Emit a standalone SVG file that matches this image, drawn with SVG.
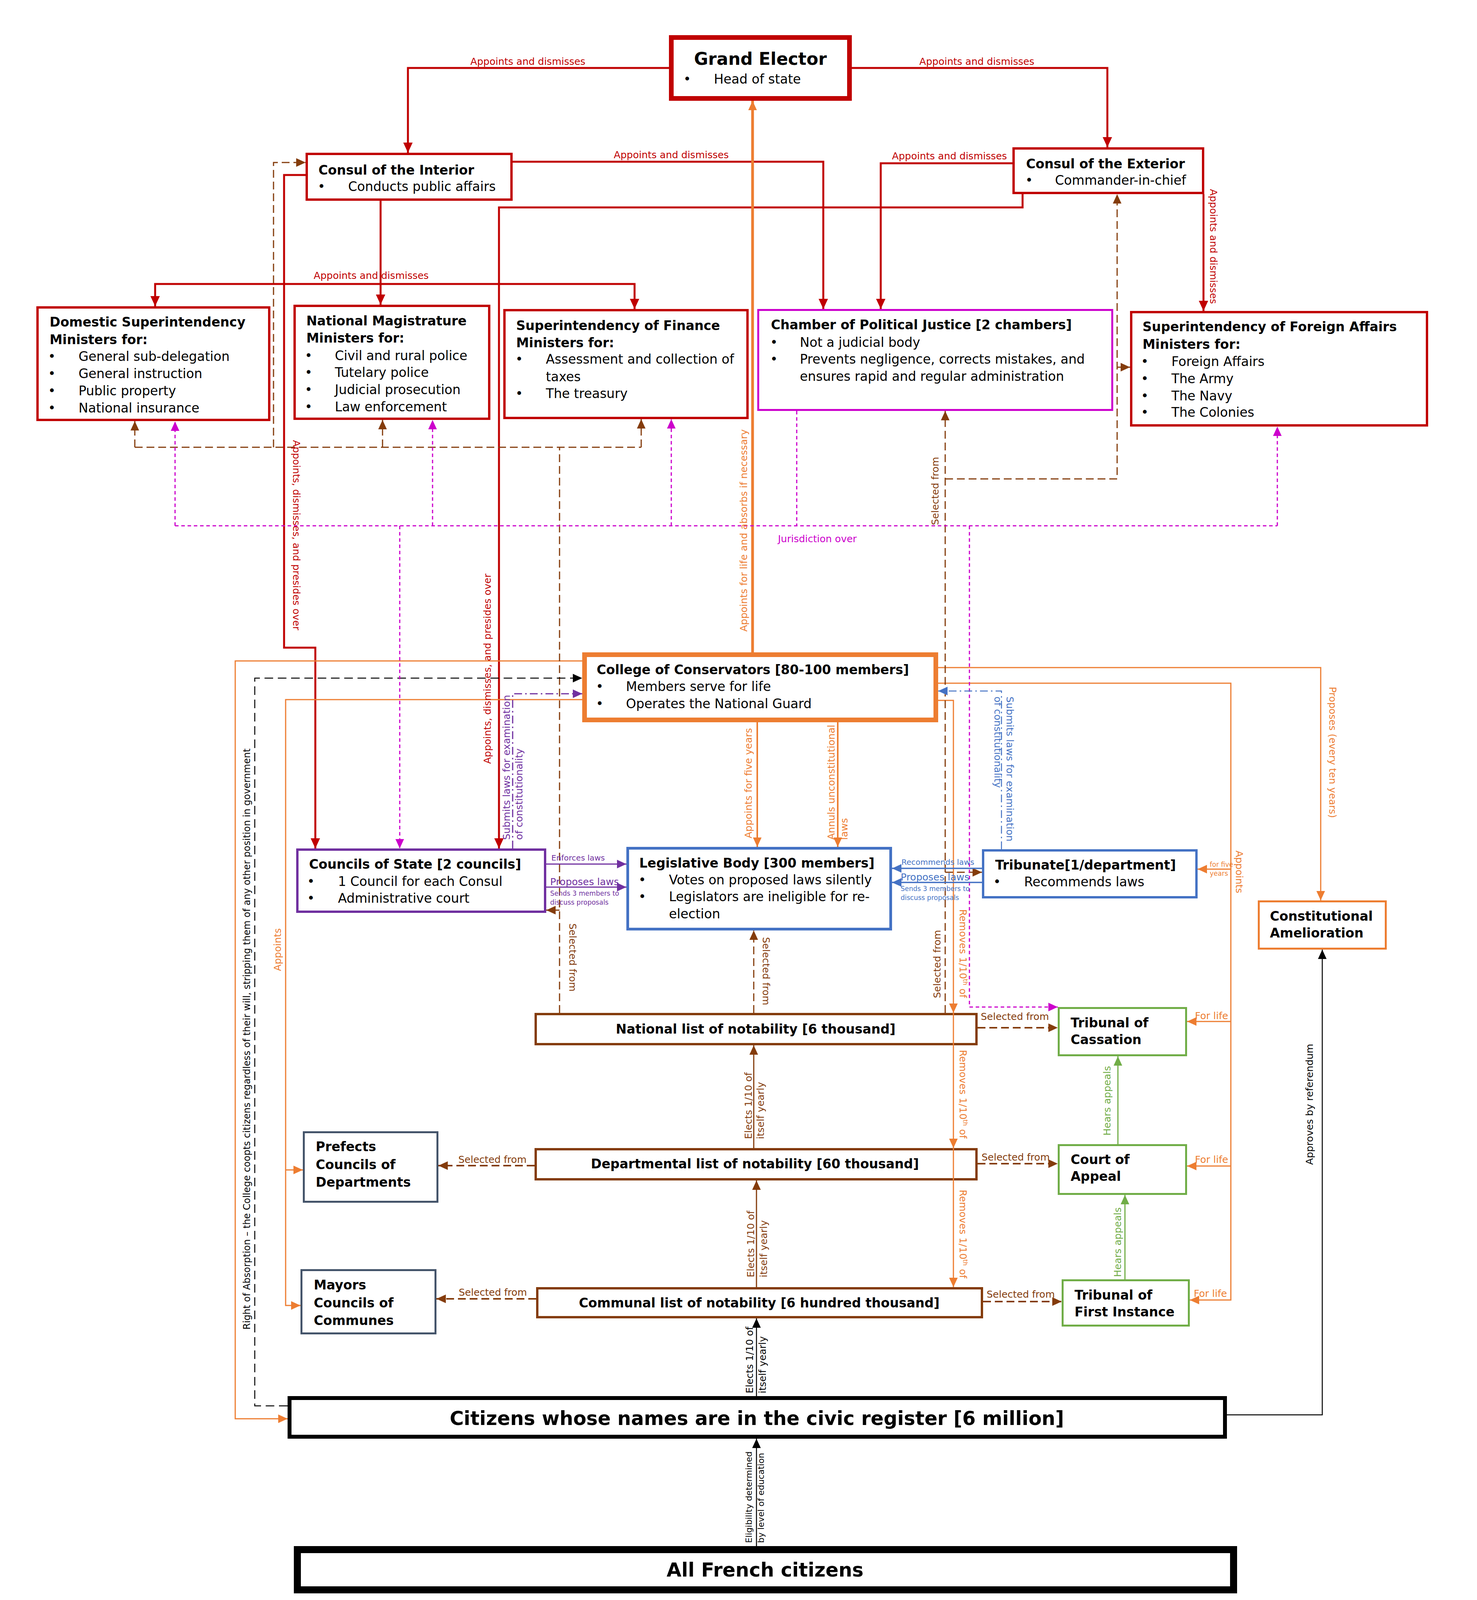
<svg xmlns="http://www.w3.org/2000/svg" width="3780" height="4252" viewBox="0 0 3780 4252">
<defs>
<style>
text{font-family:"DejaVu Sans","Liberation Sans",sans-serif}
.t{font-size:33px;fill:#000}
.b{font-weight:bold}
.l{font-size:25px}
.s{font-size:17px}
.m{font-size:20px}
.box{fill:#fff}
.c{fill:none}
.red{stroke:#C00000;stroke-width:5;marker-end:url(#aR)}
.or{stroke:#ED7D31;stroke-width:3;marker-end:url(#aO)}
.br{stroke:#843C0C;stroke-width:3;stroke-dasharray:20 10;marker-end:url(#aB)}
.brs{stroke:#843C0C;stroke-width:3;marker-end:url(#aB)}
.mg{stroke:#CC00CC;stroke-width:3;stroke-dasharray:9 7;marker-end:url(#aM)}
.pu{stroke:#7030A0;stroke-width:3;marker-end:url(#aP)}
.bl{stroke:#4472C4;stroke-width:3.5;marker-end:url(#aL)}
.gr{stroke:#70AD47;stroke-width:3;marker-end:url(#aG)}
.bk{stroke:#000;stroke-width:2.5;marker-end:url(#aK)}
.fr{fill:#C00000}.fo{fill:#ED7D31}.fb{fill:#843C0C}.fm{fill:#CC00CC}.fp{fill:#7030A0}.fl{fill:#4472C4}.fg{fill:#70AD47}.fk{fill:#000}
</style>
<marker id="aR" viewBox="0 0 20 20" refX="20" refY="10" markerWidth="26" markerHeight="24" markerUnits="userSpaceOnUse" orient="auto" preserveAspectRatio="none"><path d="M0,0L20,10L0,20z" fill="#C00000"/></marker>
<marker id="aO" viewBox="0 0 20 20" refX="20" refY="10" markerWidth="24" markerHeight="22" markerUnits="userSpaceOnUse" orient="auto" preserveAspectRatio="none"><path d="M0,0L20,10L0,20z" fill="#ED7D31"/></marker>
<marker id="aB" viewBox="0 0 20 20" refX="20" refY="10" markerWidth="24" markerHeight="22" markerUnits="userSpaceOnUse" orient="auto" preserveAspectRatio="none"><path d="M0,0L20,10L0,20z" fill="#843C0C"/></marker>
<marker id="aM" viewBox="0 0 20 20" refX="20" refY="10" markerWidth="24" markerHeight="22" markerUnits="userSpaceOnUse" orient="auto" preserveAspectRatio="none"><path d="M0,0L20,10L0,20z" fill="#CC00CC"/></marker>
<marker id="aP" viewBox="0 0 20 20" refX="20" refY="10" markerWidth="24" markerHeight="22" markerUnits="userSpaceOnUse" orient="auto" preserveAspectRatio="none"><path d="M0,0L20,10L0,20z" fill="#7030A0"/></marker>
<marker id="aL" viewBox="0 0 20 20" refX="20" refY="10" markerWidth="24" markerHeight="22" markerUnits="userSpaceOnUse" orient="auto" preserveAspectRatio="none"><path d="M0,0L20,10L0,20z" fill="#4472C4"/></marker>
<marker id="aG" viewBox="0 0 20 20" refX="20" refY="10" markerWidth="24" markerHeight="22" markerUnits="userSpaceOnUse" orient="auto" preserveAspectRatio="none"><path d="M0,0L20,10L0,20z" fill="#70AD47"/></marker>
<marker id="aK" viewBox="0 0 20 20" refX="20" refY="10" markerWidth="24" markerHeight="22" markerUnits="userSpaceOnUse" orient="auto" preserveAspectRatio="none"><path d="M0,0L20,10L0,20z" fill="#000"/></marker>
</defs>
<rect width="3780" height="4252" fill="#fff"/>

<g id="nodes">
<g id="grand-elector">
<rect class="box" x="1718" y="96" width="456" height="156" stroke="#C00000" stroke-width="12"/>
<text class="t b" x="1946" y="166" text-anchor="middle" style="font-size:44px">Grand Elector</text>
<text class="t" x="1749" y="214">•</text><text class="t" x="1827" y="214">Head of state</text>
</g>
<g id="consul-interior">
<rect class="box" x="785" y="394" width="524" height="117" stroke="#C00000" stroke-width="6"/>
<text class="t b" x="815" y="447">Consul of the Interior</text>
<text class="t" x="813" y="489">•</text><text class="t" x="891" y="489">Conducts public affairs</text>
</g>
<g id="consul-exterior">
<rect class="box" x="2594" y="380" width="485" height="114" stroke="#C00000" stroke-width="6"/>
<text class="t b" x="2626" y="431">Consul of the Exterior</text>
<text class="t" x="2624" y="473">•</text><text class="t" x="2700" y="473">Commander-in-chief</text>
</g>
<g id="domestic">
<rect class="box" x="96" y="787" width="593" height="288" stroke="#C00000" stroke-width="6"/>
<text class="t b" x="127" y="836">Domestic Superintendency</text>
<text class="t b" x="127" y="881">Ministers for:</text>
<text class="t" x="123" y="924">•</text><text class="t" x="201" y="924">General sub-delegation</text>
<text class="t" x="123" y="968">•</text><text class="t" x="201" y="968">General instruction</text>
<text class="t" x="123" y="1012">•</text><text class="t" x="201" y="1012">Public property</text>
<text class="t" x="123" y="1056">•</text><text class="t" x="201" y="1056">National insurance</text>
</g>
<g id="magistrature">
<rect class="box" x="754" y="783" width="498" height="289" stroke="#C00000" stroke-width="6"/>
<text class="t b" x="784" y="833">National Magistrature</text>
<text class="t b" x="784" y="877">Ministers for:</text>
<text class="t" x="780" y="922">•</text><text class="t" x="857" y="922">Civil and rural police</text>
<text class="t" x="780" y="965">•</text><text class="t" x="857" y="965">Tutelary police</text>
<text class="t" x="780" y="1009">•</text><text class="t" x="857" y="1009">Judicial prosecution</text>
<text class="t" x="780" y="1053">•</text><text class="t" x="857" y="1053">Law enforcement</text>
</g>
<g id="finance">
<rect class="box" x="1291" y="794" width="622" height="276" stroke="#C00000" stroke-width="6"/>
<text class="t b" x="1321" y="845">Superintendency of Finance</text>
<text class="t b" x="1321" y="889">Ministers for:</text>
<text class="t" x="1319" y="931">•</text><text class="t" x="1397" y="931">Assessment and collection of</text>
<text class="t" x="1397" y="976">taxes</text>
<text class="t" x="1319" y="1019">•</text><text class="t" x="1397" y="1019">The treasury</text>
</g>
<g id="chamber">
<rect class="box" x="1940.5" y="793.5" width="906" height="256" stroke="#CC00CC" stroke-width="5"/>
<text class="t b" x="1973" y="843">Chamber of Political Justice [2 chambers]</text>
<text class="t" x="1971" y="888">•</text><text class="t" x="2047" y="888">Not a judicial body</text>
<text class="t" x="1971" y="931">•</text><text class="t" x="2047" y="931">Prevents negligence, corrects mistakes, and</text>
<text class="t" x="2047" y="975">ensures rapid and regular administration</text>
</g>
<g id="foreign">
<rect class="box" x="2895" y="799" width="757" height="290" stroke="#C00000" stroke-width="6"/>
<text class="t b" x="2924" y="848">Superintendency of Foreign Affairs</text>
<text class="t b" x="2924" y="893">Ministers for:</text>
<text class="t" x="2920" y="937">•</text><text class="t" x="2998" y="937">Foreign Affairs</text>
<text class="t" x="2920" y="981">•</text><text class="t" x="2998" y="981">The Army</text>
<text class="t" x="2920" y="1025">•</text><text class="t" x="2998" y="1025">The Navy</text>
<text class="t" x="2920" y="1067">•</text><text class="t" x="2998" y="1067">The Colonies</text>
</g>
<g id="college">
<rect class="box" x="1496" y="1676" width="899" height="167" stroke="#ED7D31" stroke-width="12"/>
<text class="t b" x="1527" y="1726">College of Conservators [80-100 members]</text>
<text class="t" x="1525" y="1769">•</text><text class="t" x="1602" y="1769">Members serve for life</text>
<text class="t" x="1525" y="1813">•</text><text class="t" x="1602" y="1813">Operates the National Guard</text>
</g>
<g id="councils">
<rect class="box" x="761" y="2175" width="634" height="159" stroke="#7030A0" stroke-width="6"/>
<text class="t b" x="791" y="2224">Councils of State [2 councils]</text>
<text class="t" x="786" y="2268">•</text><text class="t" x="865" y="2268">1 Council for each Consul</text>
<text class="t" x="786" y="2311">•</text><text class="t" x="865" y="2311">Administrative court</text>
</g>
<g id="legislative">
<rect class="box" x="1606.5" y="2171.5" width="673" height="207" stroke="#4472C4" stroke-width="7"/>
<text class="t b" x="1636" y="2221">Legislative Body [300 members]</text>
<text class="t" x="1634" y="2264">•</text><text class="t" x="1712" y="2264">Votes on proposed laws silently</text>
<text class="t" x="1634" y="2307">•</text><text class="t" x="1712" y="2307">Legislators are ineligible for re-</text>
<text class="t" x="1712" y="2351">election</text>
</g>
<g id="tribunate">
<rect class="box" x="2516" y="2177" width="546" height="120" stroke="#4472C4" stroke-width="6"/>
<text class="t b" x="2547" y="2226">Tribunate[1/department]</text>
<text class="t" x="2542" y="2269">•</text><text class="t" x="2621" y="2269">Recommends laws</text>
</g>
<g id="amelioration">
<rect class="box" x="3221.5" y="2307.5" width="325" height="121" stroke="#ED7D31" stroke-width="5"/>
<text class="t b" x="3250" y="2357">Constitutional</text>
<text class="t b" x="3250" y="2400">Amelioration</text>
</g>
<g id="national-list">
<rect class="box" x="1371" y="2596" width="1128" height="77" stroke="#843C0C" stroke-width="6"/>
<text class="t b" x="1934" y="2646" text-anchor="middle">National list of notability [6 thousand]</text>
</g>
<g id="departmental-list">
<rect class="box" x="1371" y="2942" width="1128" height="77" stroke="#843C0C" stroke-width="6"/>
<text class="t b" x="1932" y="2991" text-anchor="middle">Departmental list of notability [60 thousand]</text>
</g>
<g id="communal-list">
<rect class="box" x="1375" y="3298" width="1138" height="74" stroke="#843C0C" stroke-width="6"/>
<text class="t b" x="1943" y="3347" text-anchor="middle">Communal list of notability [6 hundred thousand]</text>
</g>
<g id="cassation">
<rect class="box" x="2709.5" y="2580.5" width="326" height="121" stroke="#70AD47" stroke-width="5"/>
<text class="t b" x="2740" y="2630">Tribunal of</text>
<text class="t b" x="2740" y="2673">Cassation</text>
</g>
<g id="appeal">
<rect class="box" x="2709.5" y="2931.5" width="326" height="125" stroke="#70AD47" stroke-width="5"/>
<text class="t b" x="2740" y="2980">Court of</text>
<text class="t b" x="2740" y="3023">Appeal</text>
</g>
<g id="first-instance">
<rect class="box" x="2719.5" y="3277.5" width="323" height="116" stroke="#70AD47" stroke-width="5"/>
<text class="t b" x="2750" y="3327">Tribunal of</text>
<text class="t b" x="2750" y="3370">First Instance</text>
</g>
<g id="prefects">
<rect class="box" x="777.5" y="2898.5" width="342" height="178" stroke="#44546A" stroke-width="5"/>
<text class="t b" x="808" y="2947">Prefects</text>
<text class="t b" x="808" y="2993">Councils of</text>
<text class="t b" x="808" y="3038">Departments</text>
</g>
<g id="mayors">
<rect class="box" x="771.5" y="3251.5" width="343" height="162" stroke="#44546A" stroke-width="5"/>
<text class="t b" x="803" y="3301">Mayors</text>
<text class="t b" x="803" y="3347">Councils of</text>
<text class="t b" x="803" y="3392">Communes</text>
</g>
<g id="citizens">
<rect class="box" x="741" y="3579" width="2394" height="99" stroke="#000" stroke-width="10"/>
<text class="t b" x="1937" y="3648" text-anchor="middle" style="font-size:49px">Citizens whose names are in the civic register [6 million]</text>
</g>
<g id="all-citizens">
<rect class="box" x="761" y="3967" width="2396" height="103" stroke="#000" stroke-width="18"/>
<text class="t b" x="1958" y="4036" text-anchor="middle" style="font-size:49px">All French citizens</text>
</g>
</g>

<g id="connectors" class="c">
<path class="red" d="M1712,174H1044V391"/>
<path class="red" d="M2180,174H2834V377"/>
<path class="red" d="M1312,414H2107V791"/>
<path class="red" d="M2591,418H2254V791"/>
<path class="red" d="M974,514V780"/>
<path class="red" d="M974,727H397V784"/>
<path class="red" d="M974,727H1624V791"/>
<path class="red" d="M3080,497V796"/>
<path class="red" d="M782,448H727V1658H807V2172"/>
<path class="red" d="M2617,497V531H1277V2172"/>

<path class="or" style="stroke-width:7" d="M1926,1670V258"/>
<path class="or" style="stroke-width:4" d="M1938,1849V2168"/>
<path class="or" style="stroke-width:4" d="M2144,1849V2168"/>
<path class="or" d="M1490,1692H602V3632H736"/>
<path class="or" d="M1490,1791H731V3342H769"/>
<path class="or" d="M731,2995H775"/>
<path class="or" d="M2401,1709H3380V2305"/>
<path class="or" d="M2401,1749H3150V3328H3045"/>
<path class="or" d="M3150,2225H3065"/>
<path class="or" d="M3150,2615H3038"/>
<path class="or" d="M3150,2985H3038"/>
<path class="or" d="M2401,1793H2440V2593"/>
<path class="or" d="M2440,2593V2939"/>
<path class="or" d="M2440,2939V3295"/>

<path class="br" style="marker-end:none" d="M1432,2593V1145"/>
<path class="br" style="marker-end:none" d="M345,1145H1641"/>
<path class="br" d="M345,1145V1078"/>
<path class="br" d="M979,1145V1075"/>
<path class="br" d="M1641,1145V1073"/>
<path class="br" d="M700,1145V416H782"/>
<path class="br" d="M1432,2330H1398"/>
<path class="br" d="M2419,2593V1052"/>
<path class="br" d="M2419,1226H2859V497"/>
<path class="br" d="M2859,940H2892"/>
<path class="br" d="M2419,2233H2513"/>
<path class="br" d="M1929,2593V2382"/>
<path class="br" style="stroke-width:4" d="M2502,2631H2707"/>
<path class="br" style="stroke-width:4" d="M2502,2979H2707"/>
<path class="br" style="stroke-width:4" d="M2516,3332H2717"/>
<path class="br" style="stroke-width:4" d="M1368,2984H1122"/>
<path class="br" style="stroke-width:4" d="M1372,3325H1117"/>
<path class="brs" d="M1929,2939V2676"/>
<path class="brs" d="M1936,3295V3022"/>

<path class="bk" d="M1936,3574V3375"/>
<path class="bk" d="M1936,3958V3683"/>
<path class="bk" d="M3140,3622H3384V2431"/>
<path class="bk" style="stroke-dasharray:22 12" d="M736,3599H652V1736H1490"/>

<path class="mg" style="marker-end:none" d="M448,1346H3269"/>
<path class="mg" style="marker-end:none" d="M2039,1052V1346"/>
<path class="mg" d="M448,1346V1079"/>
<path class="mg" d="M1107,1346V1075"/>
<path class="mg" d="M1718,1346V1073"/>
<path class="mg" d="M3269,1346V1092"/>
<path class="mg" d="M1023,1346V2172"/>
<path class="mg" d="M2481,1346V2578H2707"/>

<path class="pu" d="M1398,2212H1603"/>
<path class="pu" d="M1398,2271H1603"/>
<path class="pu" style="stroke-dasharray:20 8 4 8" d="M1312,2172V1776H1490"/>

<path class="bl" d="M2513,2223H2283"/>
<path class="bl" d="M2513,2259H2283"/>
<path class="bl" style="stroke-width:2.5;stroke-dasharray:20 8 4 8" d="M2563,2174V1769H2401"/>

<path class="gr" d="M2861,2929V2704"/>
<path class="gr" d="M2879,3275V3059"/>
</g>

<g id="labels" class="l">
<g class="fr" text-anchor="middle">
<text x="1351" y="166">Appoints and dismisses</text>
<text x="2500" y="166">Appoints and dismisses</text>
<text x="1718" y="405">Appoints and dismisses</text>
<text x="2430" y="408">Appoints and dismisses</text>
<text x="950" y="714">Appoints and dismisses</text>
<text transform="translate(3097,631) rotate(90)">Appoints and dismisses</text>
<text transform="translate(750,1370) rotate(90)">Appoints, dismisses, and presides over</text>
<text transform="translate(1256,1712) rotate(-90)">Appoints, dismisses, and presides over</text>
</g>
<g class="fo">
<text text-anchor="middle" transform="translate(1912,1358) rotate(-90)">Appoints for life and absorbs if necessary</text>
<text text-anchor="middle" transform="translate(1924,2005) rotate(-90)">Appoints for five years</text>
<text transform="translate(2136,2150) rotate(-90)">Annuls unconstitutional</text>
<text transform="translate(2169,2150) rotate(-90)">laws</text>
<text text-anchor="middle" transform="translate(719,2431) rotate(-90)">Appoints</text>
<text text-anchor="middle" transform="translate(3402,1926) rotate(90)">Proposes (every ten years)</text>
<text text-anchor="middle" transform="translate(3163,2232) rotate(90)">Appoints</text>
<text class="s" x="3096" y="2219">for five</text>
<text class="s" x="3096" y="2242">years</text>
<text x="3058" y="2609">For life</text>
<text x="3058" y="2977">For life</text>
<text x="3055" y="3320">For life</text>
<text text-anchor="middle" transform="translate(2456,2441) rotate(90)">Removes 1/10<tspan font-size="16" dy="-9">th</tspan><tspan dy="9"> of</tspan></text>
<text text-anchor="middle" transform="translate(2456,2801) rotate(90)">Removes 1/10<tspan font-size="16" dy="-9">th</tspan><tspan dy="9"> of</tspan></text>
<text text-anchor="middle" transform="translate(2456,3159) rotate(90)">Removes 1/10<tspan font-size="16" dy="-9">th</tspan><tspan dy="9"> of</tspan></text>
</g>
<g class="fb">
<text text-anchor="middle" transform="translate(1457,2451) rotate(90)">Selected from</text>
<text text-anchor="middle" transform="translate(2402,1257) rotate(-90)">Selected from</text>
<text text-anchor="middle" transform="translate(2407,2468) rotate(-90)">Selected from</text>
<text text-anchor="middle" transform="translate(1952,2486) rotate(90)">Selected from</text>
<text transform="translate(1924,2916) rotate(-90)">Elects 1/10 of</text>
<text transform="translate(1955,2916) rotate(-90)">itself yearly</text>
<text transform="translate(1930,3270) rotate(-90)">Elects 1/10 of</text>
<text transform="translate(1963,3270) rotate(-90)">itself yearly</text>
<text x="2510" y="2611">Selected from</text>
<text x="2512" y="2971">Selected from</text>
<text x="2525" y="3322">Selected from</text>
<text x="1173" y="2977">Selected from</text>
<text x="1174" y="3317">Selected from</text>
</g>
<g class="fk">
<text transform="translate(1927,3567) rotate(-90)">Elects 1/10 of</text>
<text transform="translate(1960,3567) rotate(-90)">itself yearly</text>
<text font-size="22" transform="translate(1924,3950) rotate(-90)">Eligibility determined</text>
<text font-size="22" transform="translate(1955,3950) rotate(-90)">by level of education</text>
<text text-anchor="middle" font-size="24" transform="translate(640,2660) rotate(-90)">Right of Absorption – the College coopts citizens regardless of their will, stripping them of any other position in government</text>
<text text-anchor="middle" transform="translate(3360,2827) rotate(-90)">Approves by referendum</text>
</g>
<g class="fm">
<text x="1991" y="1388">Jurisdiction over</text>
</g>
<g class="fp">
<text class="m" x="1411" y="2203">Enforces laws</text>
<text x="1408" y="2266">Proposes laws</text>
<text class="s" x="1408" y="2293">Sends 3 members to</text>
<text class="s" x="1408" y="2316">discuss proposals</text>
<text transform="translate(1305,2150) rotate(-90)">Submits laws for examination</text>
<text transform="translate(1337,2150) rotate(-90)">of constitutionality</text>
</g>
<g class="fl">
<text class="m" x="2307" y="2214">Recommends laws</text>
<text x="2305" y="2254">Proposes laws</text>
<text class="s" x="2305" y="2281">Sends 3 members to</text>
<text class="s" x="2305" y="2304">discuss proposals</text>
<text transform="translate(2576,1783) rotate(90)">Submits laws for examination</text>
<text transform="translate(2545,1783) rotate(90)">of constitutionality</text>
</g>
<g class="fg">
<text text-anchor="middle" transform="translate(2842,2818) rotate(-90)">Hears appeals</text>
<text text-anchor="middle" transform="translate(2869,3180) rotate(-90)">Hears appeals</text>
</g>
</g>
</svg>
